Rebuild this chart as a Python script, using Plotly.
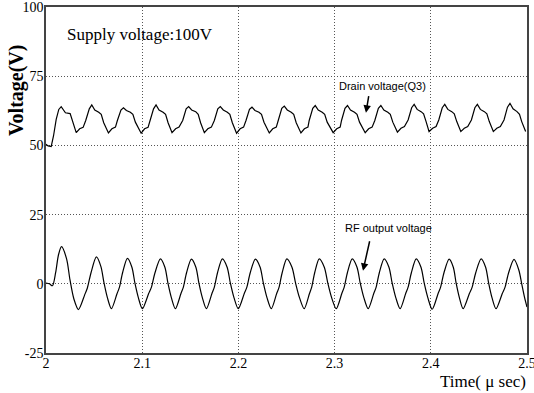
import plotly.graph_objects as go

# ---- Data ----
# Drain voltage (Q3), time in micro-seconds, voltage in V
drain_t = [
    2.0000, 2.0021, 2.0054, 2.0078, 2.0106, 2.0133, 2.0158, 2.0202, 2.0251, 2.0278, 2.0314,
    2.0350, 2.0386, 2.0413, 2.0450, 2.0476, 2.0507, 2.0548, 2.0574, 2.0600, 2.0649,
    2.0685, 2.0722, 2.0742, 2.0779, 2.0805, 2.0836, 2.0877, 2.0903, 2.0929, 2.0989,
    2.1025, 2.1061, 2.1082, 2.1118, 2.1144, 2.1175, 2.1217, 2.1243, 2.1269, 2.1310,
    2.1347, 2.1383, 2.1421, 2.1457, 2.1483, 2.1514, 2.1556, 2.1582, 2.1607, 2.1646,
    2.1682, 2.1719, 2.1750, 2.1786, 2.1812, 2.1843, 2.1885, 2.1911, 2.1937, 2.1981,
    2.2018, 2.2054, 2.2079, 2.2115, 2.2141, 2.2172, 2.2214, 2.2240, 2.2266, 2.2321,
    2.2357, 2.2394, 2.2414, 2.2451, 2.2477, 2.2508, 2.2549, 2.2575, 2.2601, 2.2650,
    2.2686, 2.2723, 2.2736, 2.2773, 2.2799, 2.2830, 2.2871, 2.2897, 2.2923, 2.2985,
    2.3022, 2.3058, 2.3072, 2.3108, 2.3134, 2.3165, 2.3207, 2.3233, 2.3259, 2.3318,
    2.3354, 2.3390, 2.3418, 2.3455, 2.3481, 2.3512, 2.3553, 2.3579, 2.3605, 2.3653,
    2.3690, 2.3726, 2.3764, 2.3801, 2.3827, 2.3858, 2.3899, 2.3925, 2.3951, 2.3982,
    2.4019, 2.4055, 2.4083, 2.4119, 2.4145, 2.4177, 2.4218, 2.4244, 2.4270, 2.4312,
    2.4348, 2.4384, 2.4422, 2.4458, 2.4484, 2.4515, 2.4557, 2.4583, 2.4608, 2.4650,
    2.4686, 2.4723, 2.4761, 2.4797, 2.4823, 2.4855, 2.4896, 2.4922, 2.4945, 2.4986,
]
drain_v = [
    50.4, 49.8, 49.6, 53.4, 59.4, 63.0, 64.0, 61.8, 61.5, 58.2, 54.6,
    56.0, 56.5, 59.0, 63.2, 64.6, 62.8, 62.0, 61.2, 58.2, 54.5,
    56.0, 56.6, 59.0, 62.8, 63.6, 62.6, 62.0, 61.2, 58.4, 54.4,
    56.0, 56.5, 59.0, 63.2, 64.6, 62.8, 62.0, 61.2, 58.2, 54.6,
    56.0, 56.6, 59.0, 63.2, 64.0, 62.8, 62.2, 61.2, 58.2, 54.6,
    56.0, 56.6, 59.0, 63.2, 64.0, 62.8, 62.0, 61.2, 58.2, 54.4,
    56.0, 56.6, 59.0, 63.0, 63.8, 62.6, 62.0, 61.2, 58.4, 54.5,
    56.0, 56.6, 59.0, 63.4, 64.2, 62.8, 62.0, 61.2, 58.2, 54.5,
    56.0, 56.6, 59.0, 63.4, 64.4, 62.8, 62.0, 61.2, 58.4, 54.6,
    56.0, 56.6, 59.0, 63.4, 64.4, 62.8, 62.0, 61.2, 58.4, 54.6,
    56.0, 56.6, 59.0, 63.4, 64.4, 62.8, 62.0, 61.2, 58.4, 54.8,
    56.2, 56.8, 59.2, 63.6, 64.8, 63.0, 62.2, 61.4, 58.6, 55.0,
    56.2, 56.8, 59.2, 63.6, 64.8, 63.0, 62.2, 61.4, 58.6, 55.0,
    56.2, 56.8, 59.2, 63.6, 64.8, 63.0, 62.2, 61.4, 58.6, 55.0,
    56.2, 56.8, 59.2, 63.8, 65.2, 63.2, 62.2, 61.2, 58.6, 55.0,
]

# RF output voltage
rf_t = [
    2.0000, 2.0035, 2.0067, 2.0100, 2.0130, 2.0161, 2.0214, 2.0249, 2.0290, 2.0337,
    2.0402, 2.0430, 2.0468, 2.0524, 2.0571, 2.0602, 2.0638, 2.0680,
    2.0738, 2.0763, 2.0796, 2.0846, 2.0893, 2.0924, 2.0960, 2.1002,
    2.1067, 2.1096, 2.1133, 2.1189, 2.1236, 2.1267, 2.1303, 2.1345,
    2.1403, 2.1428, 2.1461, 2.1511, 2.1558, 2.1589, 2.1625, 2.1667,
    2.1725, 2.1750, 2.1783, 2.1833, 2.1883, 2.1916, 2.1954, 2.1999,
    2.2061, 2.2088, 2.2123, 2.2176, 2.2226, 2.2259, 2.2297, 2.2342,
    2.2398, 2.2423, 2.2455, 2.2503, 2.2557, 2.2594, 2.2635, 2.2684,
    2.2739, 2.2762, 2.2793, 2.2840, 2.2893, 2.2929, 2.2969, 2.3017,
    2.3075, 2.3100, 2.3133, 2.3183, 2.3233, 2.3266, 2.3304, 2.3349,
    2.3407, 2.3432, 2.3465, 2.3515, 2.3565, 2.3598, 2.3636, 2.3681,
    2.3739, 2.3764, 2.3798, 2.3848, 2.3898, 2.3931, 2.3969, 2.4014,
    2.4076, 2.4102, 2.4137, 2.4190, 2.4234, 2.4263, 2.4297, 2.4336,
    2.4401, 2.4430, 2.4467, 2.4523, 2.4570, 2.4601, 2.4636, 2.4678,
    2.4743, 2.4772, 2.4809, 2.4865, 2.4915, 2.4945, 2.4975, 2.5000,
]
rf_v = [
    0.3, 0.0, -0.7, 4.0, 10.5, 13.4, 9.0, 1.5, -5.5, -9.3,
    -4.0, -1.5, 4.0, 9.7, 6.2, 0.5, -5.0, -9.0,
    -3.6, -1.3, 4.0, 9.2, 6.0, 0.3, -5.0, -9.0,
    -3.5, -1.2, 4.0, 9.0, 6.0, 0.3, -5.0, -9.0,
    -3.5, -1.2, 4.0, 8.9, 6.0, 0.3, -5.0, -9.0,
    -3.5, -1.2, 4.0, 9.0, 6.0, 0.3, -5.0, -9.0,
    -3.5, -1.2, 4.0, 8.9, 6.0, 0.3, -5.0, -9.0,
    -3.5, -1.2, 4.0, 9.0, 6.0, 0.3, -5.0, -9.0,
    -3.5, -1.2, 4.0, 9.0, 6.0, 0.3, -5.0, -9.0,
    -3.5, -1.2, 4.0, 9.0, 6.0, 0.3, -5.0, -9.0,
    -3.5, -1.2, 4.0, 9.0, 6.0, 0.3, -5.0, -9.0,
    -3.5, -1.2, 4.0, 9.0, 6.0, 0.3, -5.0, -9.2,
    -3.5, -1.2, 4.0, 8.9, 6.0, 0.3, -5.0, -9.0,
    -3.5, -1.2, 4.0, 9.0, 6.0, 0.3, -5.0, -9.0,
    -3.5, -1.2, 4.0, 8.8, 5.0, 0.0, -5.0, -8.4,
]

x_tickvals = [2.0, 2.1, 2.2, 2.3, 2.4, 2.5]
x_ticktext = ["2", "2.1", "2.2", "2.3", "2.4", "2.5"]
y_tickvals = [-25, 0, 25, 50, 75, 100]
y_ticktext = ["-25", "0", "25", "50", "75", "100"]

SERIF = "Liberation Serif"
SANS = "Liberation Sans"

fig = go.Figure()
fig.add_trace(go.Scatter(x=drain_t, y=drain_v, mode="lines",
                         line=dict(color="black", width=1.2),
                         showlegend=False, hoverinfo="skip"))
fig.add_trace(go.Scatter(x=rf_t, y=rf_v, mode="lines",
                         line=dict(color="black", width=1.2, shape="spline", smoothing=0.8),
                         showlegend=False, hoverinfo="skip"))

GRID_DASH = "1px,2px"

fig.update_layout(
    width=534, height=393,
    margin=dict(l=46, r=7, t=7, b=40, autoexpand=False),
    paper_bgcolor="white", plot_bgcolor="white",
    font=dict(family=SERIF, color="black", size=13),
    xaxis=dict(range=[2.0, 2.5], tickvals=x_tickvals, ticktext=x_ticktext,
               showgrid=True, gridcolor="#555555", gridwidth=1, griddash=GRID_DASH,
               showline=True, linecolor="#444444", linewidth=1.5, mirror=True,
               ticks="", zeroline=False, automargin=False, ticklabeloverflow="allow",
               tickfont=dict(family=SERIF, size=14), ticklabelstandoff=-4),
    yaxis=dict(range=[-25, 100], tickvals=y_tickvals, ticktext=y_ticktext,
               showgrid=True, gridcolor="#555555", gridwidth=1, griddash=GRID_DASH,
               showline=True, linecolor="#444444", linewidth=1.5, mirror=True,
               ticks="", zeroline=False, automargin=False, ticklabeloverflow="allow",
               tickfont=dict(family=SERIF, size=14), ticklabelstandoff=-2),
    annotations=[
        dict(text="Voltage(V)", textangle=-90, xref="paper", yref="paper",
             x=-0.0624, y=0.760, xanchor="center", yanchor="middle", showarrow=False,
             font=dict(family=SERIF, size=20, color="black", weight="bold")),
        dict(text="Time( μ sec)", xref="paper", yref="paper", x=1.002, y=-0.081,
             xanchor="right", yanchor="middle", showarrow=False,
             font=dict(family=SERIF, size=17, color="black")),
        dict(text="Supply voltage:100V", xref="x", yref="y", x=2.0198, y=90.0,
             xanchor="left", yanchor="middle", showarrow=False,
             font=dict(family=SERIF, size=17, color="black")),
        dict(text="Drain voltage(Q3)", xref="x", yref="y", x=2.3493, y=71.5,
             xanchor="center", yanchor="middle", showarrow=False,
             font=dict(family=SANS, size=11, color="black")),
        dict(text="RF output voltage", xref="x", yref="y", x=2.3565, y=20.2,
             xanchor="center", yanchor="middle", showarrow=False,
             font=dict(family=SANS, size=11, color="black")),
        dict(text="", xref="x", yref="y", x=2.3326, y=61.8, ax=3, ay=-18,
             showarrow=True, arrowhead=2, arrowsize=1, arrowwidth=1.5, arrowcolor="black"),
        dict(text="", xref="x", yref="y", x=2.3295, y=4.7, ax=7, ay=-31,
             showarrow=True, arrowhead=2, arrowsize=1, arrowwidth=1.5, arrowcolor="black"),
    ],
)

fig.write_html("out.html")
